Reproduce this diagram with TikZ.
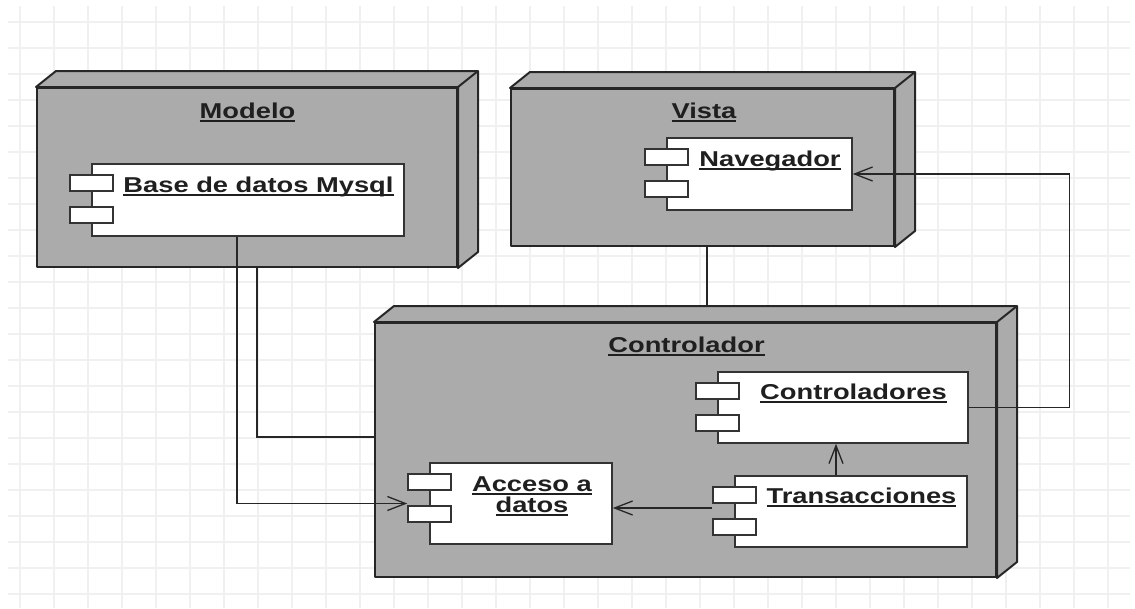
\documentclass[tikz,border=0pt]{standalone}
\usepackage{fontspec}
\setmainfont{Liberation Sans}[FakeStretch=1.27]
\usetikzlibrary{calc,arrows.meta}
\def\utext#1{\leavevmode\setbox0=\hbox{#1}\rlap{\copy0}\rule[-4.2pt]{\wd0}{1.8pt}}
\def\boxfaces#1{\draw[cube] (#1.north west) -- ($(#1.north west)+(20,-16)$) -- ($(#1.north east)+(20,-16)$) -- ($(#1.south east)+(20,-16)$) -- (#1.south east) -- (#1.north east) -- cycle;
	\draw[cube] (#1.north east) -- ++(20,-16);}
\def\comptabs#1{\draw[tab] ($(#1.north west)+(-21,12)$) rectangle ($(#1.north west)+(22,28)$);
	\draw[tab] ($(#1.north west)+(-21,44)$) rectangle ($(#1.north west)+(22,60)$);}
\begin{document}
\begin{tikzpicture}[x=1pt,y=-1pt,
		cube/.style={draw=black!85,fill=black!33,line width=2pt,line join=round},
		comp/.style={draw=black!80,fill=white,line width=1.6pt,inner sep=0pt},
		tab/.style={draw=black!80,fill=white,line width=1.6pt},
		conn/.style={draw=black!85,line width=1.3pt},
		title/.style={font=\bfseries\fontsize{21.5}{24}\selectfont,text=black!88,anchor=base,inner sep=0pt},
		gridline/.style={draw=black!6,line width=1.2pt},
		>={Straight Barb[length=18pt,width=14pt]}]
			%%%%% START %%%%%
			
			\useasboundingbox (0,0) rectangle (1135,608);
			\foreach \x in {20,54,...,1108} \draw[gridline] (\x,6) -- (\x,608);
			\foreach \y in {22,48,...,594} \draw[gridline] (8,\y) -- (1130,\y);
			
			\node[cube,minimum width=420pt,minimum height=179pt] (modelo) at (247,177.5) {};
			\boxfaces{modelo}
			\node[cube,minimum width=383pt,minimum height=157pt] (vista) at (702.5,167.5) {};
			\boxfaces{vista}
			\node[cube,minimum width=621pt,minimum height=254pt] (controlador) at (685.5,450) {};
			\boxfaces{controlador}
			\coordinate (ctrltop) at ($(controlador.north)+(0,-16)$);
			
			\node[title] (modelotxt) at (247.5,118) {\utext{Modelo}};
			\node[title] (vistatxt) at (704,118) {\utext{Vista}};
			\node[title] (controladortxt) at (686.5,352) {\utext{Controlador}};
			
			\node[comp,minimum width=312pt,minimum height=72pt] (base) at (248,200) {};
			\comptabs{base}
			\node[comp,minimum width=185pt,minimum height=72pt] (navegador) at (759.5,174) {};
			\comptabs{navegador}
			\node[comp,minimum width=250pt,minimum height=71pt] (controladores) at (843,407.5) {};
			\comptabs{controladores}
			\node[comp,minimum width=232pt,minimum height=71pt] (transacciones) at (851,511.5) {};
			\comptabs{transacciones}
			\node[comp,minimum width=182pt,minimum height=81pt] (acceso) at (521,503.5) {};
			\comptabs{acceso}
			
			\node[title] (basetxt) at (258.5,192) {\utext{Base de datos Mysql}};
			\node[title] (navegadortxt) at (770,166) {\utext{Navegador}};
			\node[title] (controladorestxt) at (853.5,399) {\utext{Controladores}};
			\node[title] (transaccionestxt) at (861.5,503) {\utext{Transacciones}};
			\node[title] (accesotxt) at (532,491) {\utext{Acceso a}};
			\node[title] (datostxt) at (532,512) {\utext{datos}};
			
			\draw[conn,->] ([xshift=-11pt]base.south) |- ([xshift=-22pt]acceso.west);
			\draw[conn] ([xshift=10pt]modelo.south) |- ([yshift=13pt]controlador.west);
			\draw[conn] ([xshift=4.5pt]vista.south) -- ([xshift=4.5pt]vista.south |- ctrltop);
			\draw[conn,->] (controladores.east) -- ++(101,0) |- (navegador.east);
			\draw[conn,->] ([xshift=-15pt]transacciones.north) -- ([xshift=-15pt]transacciones.north |- controladores.south);
			\coordinate (tleft) at ([xshift=-22pt,yshift=3.5pt]transacciones.west);
			\draw[conn,->] (tleft) -- (tleft -| acceso.east);
			
			%%%%% END %%%%%
\end{tikzpicture}
\end{document}
